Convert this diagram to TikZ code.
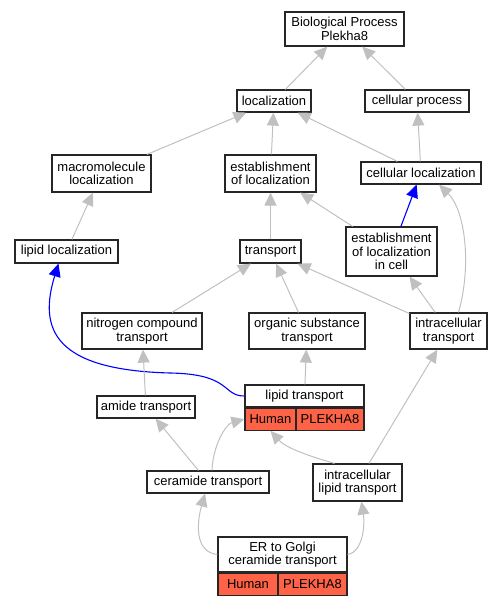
\documentclass[tikz,border=0pt]{standalone}
\usepackage{fontspec}
\setmainfont{Liberation Sans}
\usetikzlibrary{arrows.meta,positioning}
\definecolor{EdgeGray}{RGB}{192,192,192}
\definecolor{CellRed}{RGB}{255,99,71}
\tikzset{
  gobox/.style={draw=black!85,line width=1.2pt,fill=white,rectangle,
    inner sep=0pt,align=center,font=\fontsize{13}{13.5}\selectfont},
  genecell/.style={gobox,fill=CellRed,minimum height=22pt},
  goedge/.style={-{Triangle[length=13pt,width=12pt]},
    line width=1pt,draw=EdgeGray,color=EdgeGray},
  hitedge/.style={-{Triangle[length=13pt,width=12pt]},
    line width=1.1pt,draw=blue,color=blue},
}

\begin{document}
\begin{tikzpicture}[x=1pt,y=-1pt]
  \useasboundingbox (0,0) rectangle (501,605);
  % GO terms
  \node[gobox,minimum width=119pt,minimum height=34pt] (bp) at (344.5,29) {Biological Process\\Plekha8};
  \node[gobox,minimum width=74pt,minimum height=22pt] (loc) at (274,101) {localization};
  \node[gobox,minimum width=104pt,minimum height=22pt] (cproc) at (417,101) {cellular process};
  \node[gobox,minimum width=99pt,minimum height=37pt] (macro) at (101.5,173.5) {macromolecule\\localization};
  \node[gobox,minimum width=91pt,minimum height=37pt] (estloc) at (270.5,173.5) {establishment\\of localization};
  \node[gobox,minimum width=120pt,minimum height=22pt] (cellloc) at (421,173) {cellular localization};
  \node[gobox,minimum width=103pt,minimum height=23pt] (liploc) at (66.5,251.5) {lipid localization};
  \node[gobox,minimum width=61pt,minimum height=23pt] (transp) at (270.5,251.5) {transport};
  \node[gobox,minimum width=91pt,minimum height=49pt] (estcell) at (391.5,251.5) {establishment\\of localization\\in cell};
  \node[gobox,minimum width=120pt,minimum height=36pt] (nitro) at (142,331) {nitrogen compound\\transport};
  \node[gobox,minimum width=116pt,minimum height=36pt] (organic) at (307,331) {organic substance\\transport};
  \node[gobox,minimum width=77pt,minimum height=36pt] (intra) at (448.5,331) {intracellular\\transport};
  \node[gobox,minimum width=98pt,minimum height=22pt] (amide) at (146,407) {amide transport};
  \node[gobox,minimum width=122pt,minimum height=22pt] (ceram) at (208,482) {ceramide transport};
  \node[gobox,minimum width=89pt,minimum height=37pt] (intralip) at (357.5,482.5) {intracellular\\lipid transport};

  % annotated terms
  \node[gobox,minimum width=119pt,minimum height=22pt] (liptr) at (304.5,396) {lipid transport};
  \node[genecell,minimum width=51pt,anchor=north west] (liptrH) at (liptr.south west) {Human};
  \node[genecell,minimum width=68pt,anchor=north east] (liptrG) at (liptr.south east) {PLEKHA8};
  \node[gobox,minimum width=129pt,minimum height=35pt] (er) at (282.5,554.5) {ER to Golgi\\ceramide transport};
  \node[genecell,minimum width=60pt,anchor=north west] (erH) at (er.south west) {Human};
  \node[genecell,minimum width=69pt,anchor=north east] (erG) at (er.south east) {PLEKHA8};

  % is_a edges
  \draw[goedge] (loc) -- (bp);
  \draw[goedge] (cproc) -- (bp);
  \draw[goedge] (macro) -- (loc);
  \draw[goedge] (estloc) -- (loc);
  \draw[goedge] (cellloc) -- (loc);
  \draw[goedge] (cellloc) -- (cproc);
  \draw[goedge] (liploc) -- (macro);
  \draw[goedge] (transp) -- (estloc);
  \draw[goedge] (estcell) -- (estloc);
  \draw[hitedge] (estcell) -- (cellloc);
  \draw[goedge] ([xshift=10]intra.north) .. controls (472,265) and (465,210) .. ([xshift=18]cellloc.south);
  \draw[goedge] (nitro) -- (transp);
  \draw[goedge] (organic) -- (transp);
  \draw[goedge] (intra) -- (transp);
  \draw[goedge] (intra) -- (estcell);
  \draw[hitedge] (liptr.west) .. controls (222,396) and (232,374) .. (170,373)
    .. controls (55,370) and (38,330) .. ([xshift=-8]liploc.south);
  \draw[goedge] (liptr) -- (organic);
  \draw[goedge] (amide) -- (nitro);
  \draw[goedge] (ceram) -- (amide);
  \draw[goedge] ([xshift=4]ceram.north) .. controls (213,445) and (226,424) .. (liptrH.west);
  \draw[goedge] ([xshift=-23]intralip.north) .. controls (305,455) and (285,447) .. (liptrH.south);
  \draw[goedge] (intralip) -- (intra);
  \draw[goedge] (er.west) .. controls (194,552) and (197,522) .. ([xshift=-3]ceram.south);
  \draw[goedge] (er.east) .. controls (363,552) and (365,525) .. ([xshift=4]intralip.south);
\end{tikzpicture}
\end{document}
